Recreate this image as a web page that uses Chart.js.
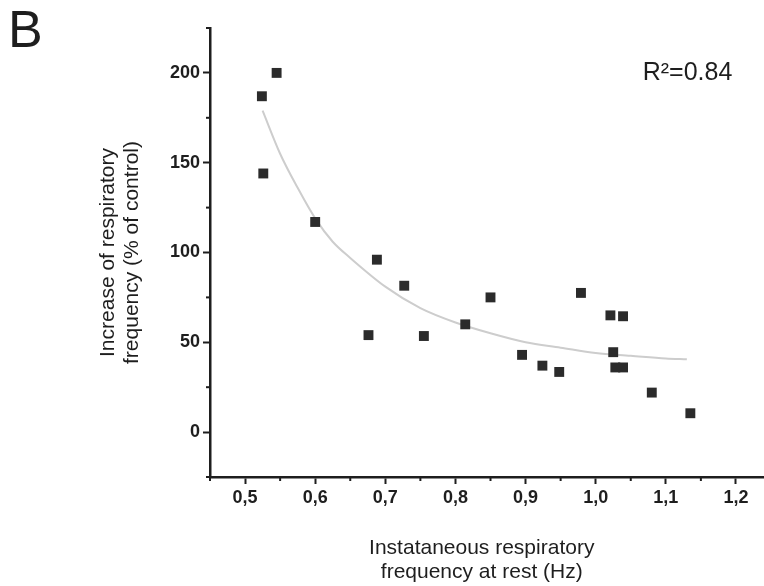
<!DOCTYPE html>
<html lang="en">
<head>
    <meta charset="UTF-8">
    <title>Respiratory frequency</title>
    <script src="https://cdn.jsdelivr.net/npm/chart.js"></script>
    <style>
        body { margin: 0; overflow: hidden; background: #fff; }
    </style>
</head>
<body>

<canvas id="myChart" width="778" height="586"></canvas>

<script>
// measured points: resting frequency (Hz) vs increase (% of control)
const restFreq = [0.524, 0.545, 0.526, 0.600, 0.676, 0.688, 0.727, 0.755, 0.814, 0.850, 0.895,
                  0.924, 0.948, 0.979, 1.021, 1.025, 1.028, 1.039, 1.039, 1.080, 1.135];
const increase = [187, 200, 144, 117, 54, 96, 81.5, 53.5, 60, 75, 43,
                  37, 33.5, 77.5, 65, 44.5, 36, 64.5, 36, 22, 10.5];

// fitted curve
const fitX = [0.525, 0.55, 0.575, 0.60, 0.625, 0.65, 0.70, 0.75, 0.80, 0.85, 0.90, 0.95, 1.00, 1.05, 1.10, 1.13];
const fitY = [179, 155, 136, 119, 106, 97, 81, 69, 61, 55, 50, 47, 44, 42.5, 41, 40.5];

// ticks
const xTicks = [0.45, 0.5, 0.55, 0.6, 0.65, 0.7, 0.75, 0.8, 0.85, 0.9, 0.95, 1.0, 1.05, 1.1, 1.15, 1.2, 1.25];
const xLabels = [0.5, 0.6, 0.7, 0.8, 0.9, 1.0, 1.1, 1.2];
const yTicks = [-25, 0, 25, 50, 75, 100, 125, 150, 175, 200, 225];
const yLabels = [0, 50, 100, 150, 200];

const rSquared = 'R²=0.84';
const panelLetter = 'B';

const ink = '#1e1e1e';
const fontFamily = '"Liberation Sans", Arial, sans-serif';

function isLabel(list, v) {
    return list.some(l => Math.abs(l - v) < 1e-6);
}

// minor ticks drawn shorter than major ones, plus panel letter and R²
const extras = {
    id: 'extras',
    afterDraw(chart) {
        const ctx = chart.ctx;
        const xs = chart.scales.x, ys = chart.scales.y;
        ctx.save();
        ctx.strokeStyle = ink;
        ctx.lineWidth = 2;
        xTicks.forEach(v => {
            if (isLabel(xLabels, v)) return;
            const px = xs.getPixelForValue(v);
            ctx.beginPath();
            ctx.moveTo(px, xs.top);
            ctx.lineTo(px, xs.top + 4);
            ctx.stroke();
        });
        yTicks.forEach(v => {
            if (isLabel(yLabels, v)) return;
            const py = ys.getPixelForValue(v);
            ctx.beginPath();
            ctx.moveTo(ys.right, py);
            ctx.lineTo(ys.right - 4, py);
            ctx.stroke();
        });

        ctx.fillStyle = ink;
        ctx.textBaseline = 'middle';
        ctx.textAlign = 'left';
        ctx.font = '25px ' + fontFamily;
        ctx.fillText(rSquared, xs.getPixelForValue(1.067), ys.getPixelForValue(200));

        ctx.font = '52px ' + fontFamily;
        ctx.textBaseline = 'alphabetic';
        ctx.fillText(panelLetter, 8, 47);
        ctx.restore();
    }
};

const ctx = document.getElementById('myChart').getContext('2d');
const myChart = new Chart(ctx, {
    type: 'scatter',
    data: {
        datasets: [{
            label: 'fit',
            type: 'line',
            data: fitX.map((x, i) => ({ x: x, y: fitY[i] })),
            borderColor: '#cdcdcd',
            borderWidth: 2,
            pointRadius: 0,
            tension: 0.4,
            cubicInterpolationMode: 'monotone',
            fill: false,
            order: 2
        }, {
            label: 'data',
            data: restFreq.map((x, i) => ({ x: x, y: increase[i] })),
            pointStyle: 'rect',
            pointRadius: 7,
            backgroundColor: '#2b2b2b',
            borderColor: '#2b2b2b',
            borderWidth: 0,
            order: 1
        }]
    },
    options: {
        responsive: false,
        animation: false,
        layout: { padding: { top: 28, left: 0, right: 0, bottom: 0 } },
        plugins: {
            legend: { display: false },
            tooltip: { enabled: false }
        },
        scales: {
            x: {
                type: 'linear',
                min: 0.45,
                max: 1.25,
                afterBuildTicks: s => { s.ticks = xTicks.map(v => ({ value: v })); },
                afterFit: s => { s.height = 109; },
                border: { display: true, color: ink, width: 2.5 },
                grid: {
                    drawOnChartArea: false,
                    drawTicks: true,
                    tickLength: 7,
                    tickWidth: 2,
                    tickColor: c => isLabel(xLabels, c.tick.value) ? ink : 'rgba(0,0,0,0)'
                },
                ticks: {
                    autoSkip: false,
                    maxRotation: 0,
                    padding: 3,
                    color: ink,
                    font: { family: fontFamily, size: 18, weight: 'bold' },
                    callback: v => isLabel(xLabels, v) ? v.toFixed(1).replace('.', ',') : ''
                },
                title: {
                    display: true,
                    text: ['Instataneous respiratory   ', 'frequency at rest (Hz)   '],
                    color: ink,
                    font: { family: fontFamily, size: 21, lineHeight: 1.15 },
                    padding: { top: 0, bottom: 2 }
                }
            },
            y: {
                type: 'linear',
                min: -25,
                max: 225,
                afterBuildTicks: s => { s.ticks = yTicks.map(v => ({ value: v })); },
                afterFit: s => { s.width = 210; },
                border: { display: true, color: ink, width: 2.5 },
                grid: {
                    drawOnChartArea: false,
                    drawTicks: true,
                    tickLength: 7,
                    tickWidth: 2,
                    tickColor: c => isLabel(yLabels, c.tick.value) ? ink : 'rgba(0,0,0,0)'
                },
                ticks: {
                    autoSkip: false,
                    padding: 3,
                    color: ink,
                    font: { family: fontFamily, size: 18, weight: 'bold' },
                    callback: v => isLabel(yLabels, v) ? String(v) : ''
                },
                title: {
                    display: true,
                    text: ['Increase of respiratory', 'frequency (% of control)'],
                    color: ink,
                    font: { family: fontFamily, size: 21, lineHeight: 1.15 },
                    padding: { top: 96, bottom: 0 }
                }
            }
        }
    },
    plugins: [extras]
});
</script>

</body>
</html>
